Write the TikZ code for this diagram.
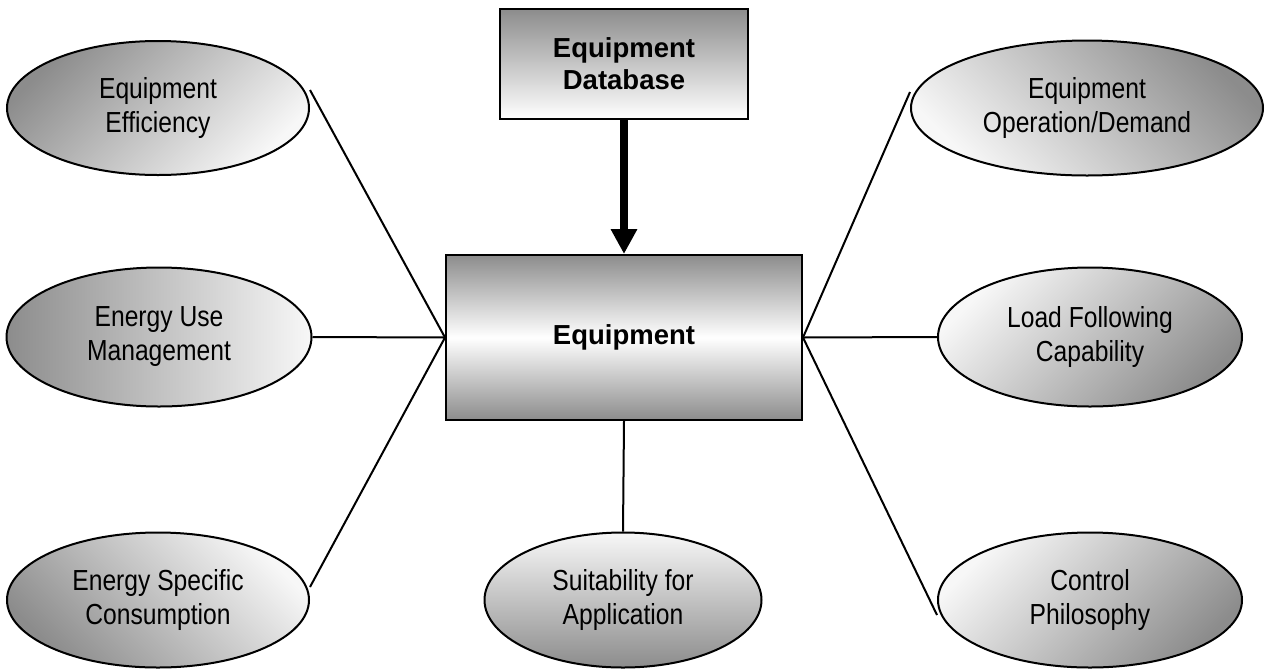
\documentclass[tikz,border=0pt]{standalone}
\usepackage{fontspec}
\setmainfont{Liberation Sans}
\newfontfamily\narrowsf{Liberation Sans}[FakeStretch=0.85]
\usetikzlibrary{arrows.meta,shapes.geometric}
\definecolor{shadedark}{gray}{0.55}
\definecolor{shadelight}{gray}{0.97}
\tikzset{
  topic/.style={ellipse, draw=black, line width=1.2pt, inner sep=0pt,
    align=center, font=\narrowsf\fontsize{17.4pt}{20.4pt}\selectfont,
    top color=shadedark, bottom color=shadelight, shading angle=#1},
  hubbox/.style={rectangle, draw=black, line width=1.2pt, inner sep=0pt,
    align=center, font=\bfseries\fontsize{16.5pt}{19.2pt}\selectfont},
  link/.style={draw=black, line width=1.2pt},
  feed/.style={draw=black, line width=4.8pt, -{Triangle[width=15pt,length=15pt]}}
}
\begin{document}
\begin{tikzpicture}[x=0.6pt, y=-0.6pt]
\useasboundingbox (0,0) rectangle (1267,668);

% central equipment block and its data source
\node[hubbox, minimum width=213.6pt, minimum height=99pt,
  top color=shadedark, bottom color=shadedark, middle color=white] (main) at (624,337.5) {Equipment};
\node[hubbox, minimum width=148.8pt, minimum height=66pt,
  top color=shadedark, bottom color=white] (db) at (624,64) {Equipment\\Database};

% surrounding attributes
\node[topic=45,  minimum width=181.2pt, minimum height=80.4pt] (eff)  at (158,108) {Equipment\\Efficiency};
\node[topic=90,  minimum width=183pt,   minimum height=83.4pt] (use)  at (159,337) {Energy Use\\Management};
\node[topic=135, minimum width=181.2pt, minimum height=81pt]   (spec) at (158,600) {Energy Specific\\Consumption};
\node[topic=180, minimum width=166.2pt, minimum height=81pt]   (suit) at (623,600) {Suitability for\\Application};
\node[topic=-45, minimum width=211.2pt, minimum height=81pt]   (oper) at (1087,108) {Equipment\\Operation/Demand};
\node[topic=-135,minimum width=182.4pt, minimum height=83.4pt] (load) at (1090,337) {Load Following\\Capability};
\node[topic=-135,minimum width=182.4pt, minimum height=81pt]   (ctrl) at (1090,600) {Control\\Philosophy};

% connectors
\draw[feed] (db.south) -- (main.north);
\draw[link] (main.west) -- ([yshift=10.8pt]eff.east);
\draw[link] (main.west) -- (use.east);
\draw[link] (main.west) -- ([yshift=7.8pt]spec.east);
\draw[link] (main.south) -- (suit.north);
\draw[link] (main.east) -- ([yshift=9.6pt]oper.west);
\draw[link] (main.east) -- (load.west);
\draw[link] (main.east) -- ([yshift=-9pt]ctrl.west);
\end{tikzpicture}
\end{document}
